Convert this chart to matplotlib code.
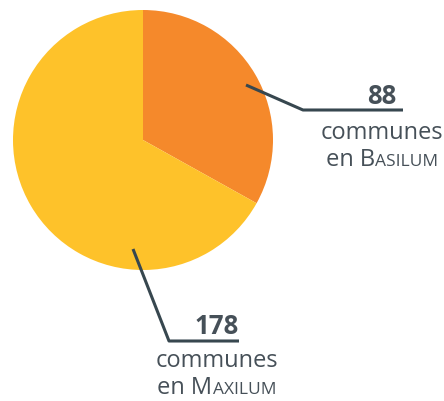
import matplotlib.pyplot as plt
from matplotlib.offsetbox import TextArea, HPacker, AnnotationBbox

counts = [88, 178]
numbers = ["88", "178"]
names = [("B", "ASILUM"), ("M", "AXILUM")]
colors = ["#F5892B", "#FEC22A"]

W, H = 444, 401
LINE = "#37474F"
TXT = "#465058"
FONT = "Open Sans"


def py(y):
    # pixel row from the top -> data y
    return H - y


fig = plt.figure(figsize=(W / 100, H / 100), dpi=100)
ax = fig.add_axes([0, 0, 1, 1])

ax.pie(counts, colors=colors, startangle=90, counterclock=False,
       center=(143, py(140)), radius=130, frame=True,
       wedgeprops=dict(linewidth=0))
ax.set_xlim(0, W)
ax.set_ylim(0, H)
ax.set_aspect("equal")
ax.axis("off")

# leader lines: start in the wedge, elbow, horizontal underline
leaders = [
    [(246, 85), (303, 110), (403, 110)],
    [(133, 249), (169, 341), (239, 341)],
]
label_x = [382, 217]
num_y = [96, 327]
com_y = [133, 361]
en_y = [160, 388]

for i in range(len(counts)):
    xs = [p[0] for p in leaders[i]]
    ys = [py(p[1]) for p in leaders[i]]
    ax.plot(xs, ys, color=LINE, lw=2.2, solid_capstyle="butt")

    ax.text(label_x[i], py(num_y[i]), numbers[i], ha="center", va="center",
            fontsize=18.5, fontweight="bold", color=TXT, family=FONT)
    ax.text(label_x[i], py(com_y[i]), "communes", ha="center", va="center",
            fontsize=17, color=TXT, family=FONT)

    big, small = names[i]
    parts = [
        TextArea("en " + big, textprops=dict(fontsize=17, color=TXT, family=FONT)),
        TextArea(small, textprops=dict(fontsize=12.5, color=TXT, family=FONT)),
    ]
    box = HPacker(children=parts, align="baseline", pad=0, sep=0.5)
    ab = AnnotationBbox(box, (label_x[i], py(en_y[i])), frameon=False,
                        box_alignment=(0.5, 0.5), pad=0)
    ax.add_artist(ab)

fig.savefig("out.png", dpi=100)
